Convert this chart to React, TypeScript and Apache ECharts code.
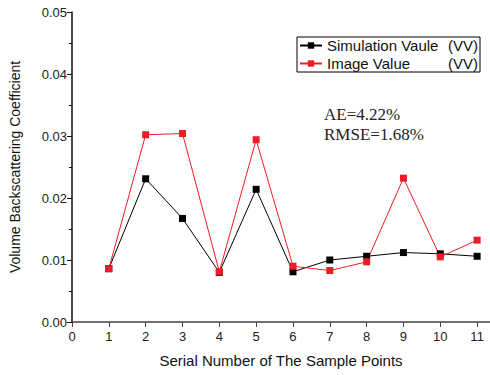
import React, { useEffect, useRef } from "react";
import * as echarts from "echarts";

const points = [1, 2, 3, 4, 5, 6, 7, 8, 9, 10, 11];
const simulation = [0.0086, 0.0231, 0.0167, 0.0080, 0.0214, 0.0081, 0.0100, 0.0106, 0.0112, 0.0110, 0.0106];
const image = [0.0086, 0.0302, 0.0304, 0.0081, 0.0294, 0.0090, 0.0083, 0.0097, 0.0232, 0.0105, 0.0132];
const xTicks = [0, 1, 2, 3, 4, 5, 6, 7, 8, 9, 10, 11];
const names = ["Simulation Vaule", "Image Value"];

export default function App() {
  const ref = useRef<HTMLDivElement>(null);
  useEffect(() => {
    const chart = echarts.init(ref.current!, null, { renderer: "svg" });
    const font = "'Liberation Sans', Arial, sans-serif";
    chart.setOption({
      animation: false,
      backgroundColor: "#fff",
      grid: { left: 71, right: 0, top: 12, bottom: 53, containLabel: false },
      legend: {
        left: 297,
        top: 37,
        orient: "vertical",
        itemGap: 3,
        itemWidth: 22,
        itemHeight: 8,
        borderColor: "#000",
        borderWidth: 1,
        borderRadius: 0,
        padding: [1, 2, 1, 2],
        data: names,
        formatter: (n: string) => `{a|${n}}{b|(VV)}`,
        textStyle: {
          fontFamily: font,
          fontSize: 15,
          color: "#111",
          rich: {
            a: { fontFamily: font, fontSize: 15, width: 121, color: "#111", lineHeight: 15 },
            b: { fontFamily: font, fontSize: 15, color: "#111", lineHeight: 15 },
          },
        },
      },
      xAxis: {
        type: "value",
        min: 0,
        max: 11.35,
        interval: 1,
        name: "Serial Number of The Sample Points",
        nameLocation: "middle",
        nameGap: 31,
        nameTextStyle: { fontFamily: font, fontSize: 15, color: "#111" },
        axisLine: { onZero: false, lineStyle: { color: "#444", width: 1.5 } },
        axisTick: { inside: false, length: 5, lineStyle: { color: "#444" }, customValues: xTicks },
        axisLabel: {
          fontFamily: font,
          fontSize: 13,
          color: "#222",
          margin: 8,
          customValues: xTicks,
          formatter: (v: number) => String(v),
        },
        splitLine: { show: false },
      },
      yAxis: {
        type: "value",
        min: 0,
        max: 0.05,
        interval: 0.01,
        name: "Volume Backscattering Coefficient",
        nameLocation: "middle",
        nameGap: 50,
        nameTextStyle: { fontFamily: "'Liberation Sans Narrow', 'Liberation Sans', Arial, sans-serif", fontSize: 14, color: "#111" },
        axisLine: { show: true, lineStyle: { color: "#111", width: 1.5 } },
        axisTick: { show: true, inside: false, length: 5, lineStyle: { color: "#111" } },
        minorTick: { show: true, splitNumber: 2, length: 3, lineStyle: { color: "#111" } },
        axisLabel: {
          fontFamily: font,
          fontSize: 13,
          color: "#222",
          margin: 5,
          formatter: (v: number) => v.toFixed(2),
        },
        splitLine: { show: false },
      },
      graphic: [
        {
          type: "text",
          left: 324,
          top: 104,
          style: {
            text: "AE=4.22%\nRMSE=1.68%",
            font: "17px 'Liberation Serif', 'Times New Roman', serif",
            fill: "#222",
            lineHeight: 20,
          },
        },
      ],
      series: [
        {
          name: names[0],
          type: "line",
          data: points.map((p, i) => [p, simulation[i]]),
          symbol: "rect",
          symbolSize: 7,
          color: "#000",
          lineStyle: { color: "#000", width: 1 },
          itemStyle: { color: "#000" },
        },
        {
          name: names[1],
          type: "line",
          data: points.map((p, i) => [p, image[i]]),
          symbol: "rect",
          symbolSize: 7,
          color: "#ee1c25",
          lineStyle: { color: "#ee1c25", width: 1 },
          itemStyle: { color: "#ee1c25" },
        },
      ],
    });
    return () => chart.dispose();
  }, []);
  return (
    <div
      ref={ref}
      style={{ position: "fixed", left: 0, top: 0, width: 490, height: 375, background: "#fff" }}
    />
  );
}
